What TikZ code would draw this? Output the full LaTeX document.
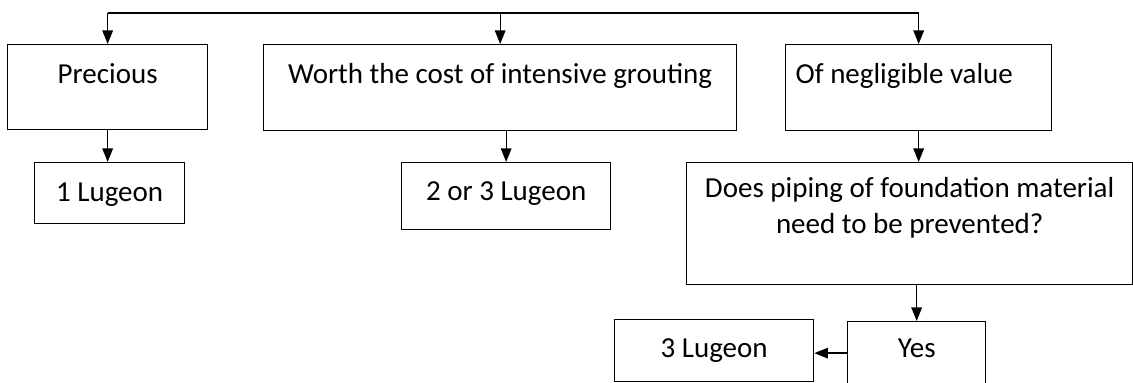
\documentclass[tikz,border=0pt]{standalone}
\usepackage{fontspec}
\setmainfont{Carlito}
\usepackage{tikz}
\usetikzlibrary{arrows.meta, positioning}

\begin{document}
\begin{tikzpicture}
  % Styles
  \tikzstyle{choice} = [draw, rectangle, line width=0.75pt, inner sep=0pt, anchor=north west, align=center, font=\fontsize{16.5}{20.5}\selectfont]
  \tikzstyle{arrow} = [line width=0.75pt, -{Triangle[length=0.27cm, width=0.21cm]}]

  \useasboundingbox (0,0) rectangle (22.66,7.66);

  % Nodes with absolute coordinates (top-left corners)
  \node (prec) [choice, minimum width=4cm, text height=0.77cm, text depth=0.93cm] at (0.14,6.78) {Precious};
  \node (worth) [choice, minimum width=9.46cm, text height=0.77cm, text depth=0.95cm] at (5.26,6.78) {Worth the cost of intensive grouting};
  \node (negl) [choice, inner xsep=0.2cm, text width=4.92cm, align=flush left, text height=0.77cm, text depth=0.95cm] at (15.70,6.78) {Of negligible value};
  \node (lug1) [choice, minimum width=3cm, text height=0.78cm, text depth=0.44cm] at (0.68,4.42) {1 Lugeon};
  \node (lug23) [choice, minimum width=4.18cm, text height=0.76cm, text depth=0.58cm] at (8.02,4.42) {2 or 3 Lugeon};
  \node (does) [choice, minimum width=8.92cm, text height=1.42cm, text depth=1.02cm] at (13.72,4.42) {Does piping of foundation material\\need to be prevented?};
  \node (lug3) [choice, minimum width=3.98cm, text height=0.76cm, text depth=0.48cm] at (12.28,1.28) {3 Lugeon};
  \node (yes) [choice, minimum width=2.76cm, text height=0.72cm, text depth=0.54cm] at (16.94,1.24) {Yes};

  % Connections
  \coordinate (bar) at (0,7.40);
  \draw [line width=0.75pt] (prec.north |- bar) -- (negl.north |- bar);
  \draw [arrow] (prec.north |- bar) -- (prec.north);
  \draw [arrow] (worth.north |- bar) -- (worth.north);
  \draw [arrow] (negl.north |- bar) -- (negl.north);
  \draw [arrow] (prec.south) -- (prec.south |- lug1.north);
  \draw [arrow] (lug23.north |- worth.south) -- (lug23.north);
  \draw [arrow] (negl.south) -- (negl.south |- does.north);
  \draw [arrow] (yes.north |- does.south) -- (yes.north);
  \draw [arrow] (yes.west) -- (yes.west -| lug3.east);

\end{tikzpicture}
\end{document}
